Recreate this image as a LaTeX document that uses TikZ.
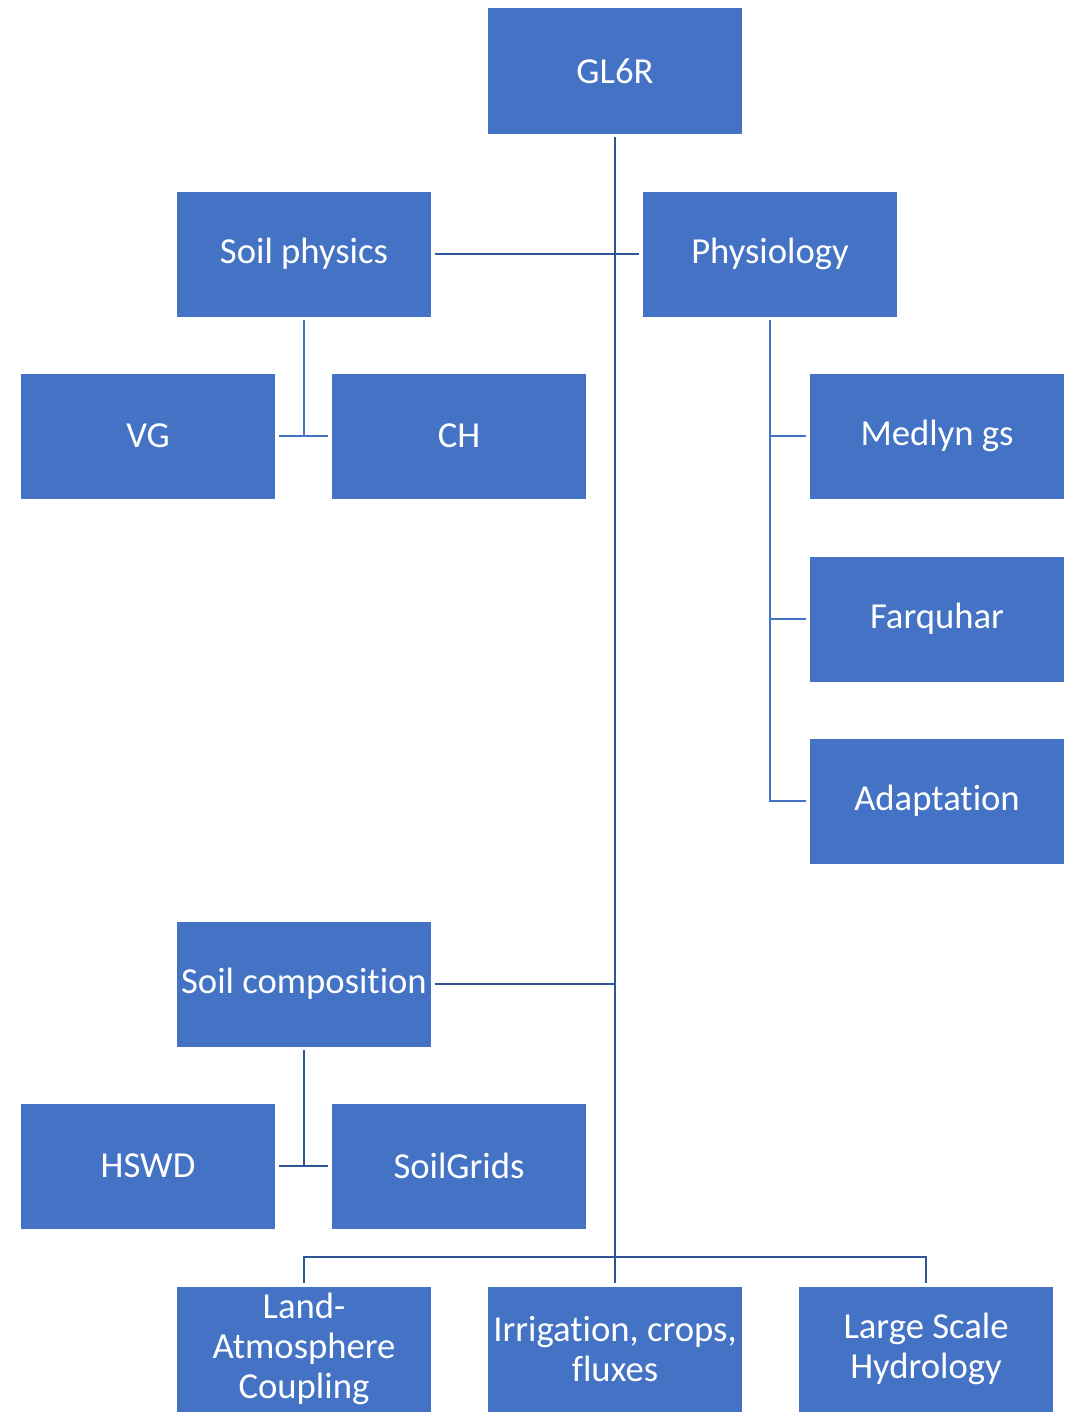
\documentclass[tikz,border=0pt]{standalone}
\usepackage{fontspec}
\setmainfont{Carlito}[Ligatures={NoCommon}]
\begin{document}
\begin{tikzpicture}[x=0.75pt,y=-0.75pt,
  box/.style={draw=none,fill=boxblue,text=white,minimum width=190.5pt,minimum height=93.75pt,inner sep=0pt,align=center,font=\fontsize{27.5}{30}\selectfont},
  mainline/.style={draw=lineblue,line width=2.2pt},
  subline/.style={draw=boxblue,line width=2.2pt}]
\definecolor{boxblue}{HTML}{4472C4}
\definecolor{lineblue}{HTML}{2F5597}
\useasboundingbox (0,0) rectangle (1069,1413);
\node[box] (gl) at (615,71) {GL6R};
\node[box] (sp) at (304,254) {Soil physics};
\node[box] (ph) at (770,254) {Physiology};
\node[box] (vg) at (148,436) {VG};
\node[box] (ch) at (459,436) {CH};
\node[box] (md) at (937,436) {Medlyn gs};
\node[box] (fq) at (937,619) {Farquhar};
\node[box] (ad) at (937,801) {Adaptation};
\node[box] (sc) at (304,984) {Soil composition};
\node[box] (hs) at (148,1166) {HSWD};
\node[box] (sg) at (459,1166) {SoilGrids};
\node[box] (la) at (304,1349) {Land-\\Atmosphere\\Coupling};
\node[box] (ir) at (615,1349) {Irrigation, crops,\\fluxes};
\node[box] (lh) at (926,1349) {Large Scale\\Hydrology};
% main trunk
\draw[mainline,shorten <=2.5pt,shorten >=2.5pt] (gl.south) -- (ir.north);
\draw[mainline,shorten <=2.5pt,shorten >=2.5pt] (sp.east) -- (ph.west);
\coordinate (scj) at (sc.east -| gl.south);
\draw[mainline,shorten <=2.5pt] (sc.east) -- (scj);
\coordinate (busl) at (304,1257);
\draw[mainline,shorten <=2.5pt,shorten >=2.5pt] (la.north) -- (busl) -| (lh.north);
% soil physics subtree
\coordinate (spj) at (304,436);
\draw[subline,shorten <=2.5pt] (sp.south) -- (spj);
\draw[subline,shorten <=2.5pt,shorten >=2.5pt] (vg.east) -- (ch.west);
% soil composition subtree
\coordinate (scb) at (304,1166);
\draw[mainline,shorten <=2.5pt] (sc.south) -- (scb);
\draw[mainline,shorten <=2.5pt,shorten >=2.5pt] (hs.east) -- (sg.west);
% physiology subtree
\draw[subline,shorten <=2.5pt,shorten >=2.5pt] (ph.south) |- (ad.west);
\draw[subline,shorten >=2.5pt] (md.west -| ph.south) -- (md.west);
\draw[subline,shorten >=2.5pt] (fq.west -| ph.south) -- (fq.west);
\end{tikzpicture}
\end{document}
